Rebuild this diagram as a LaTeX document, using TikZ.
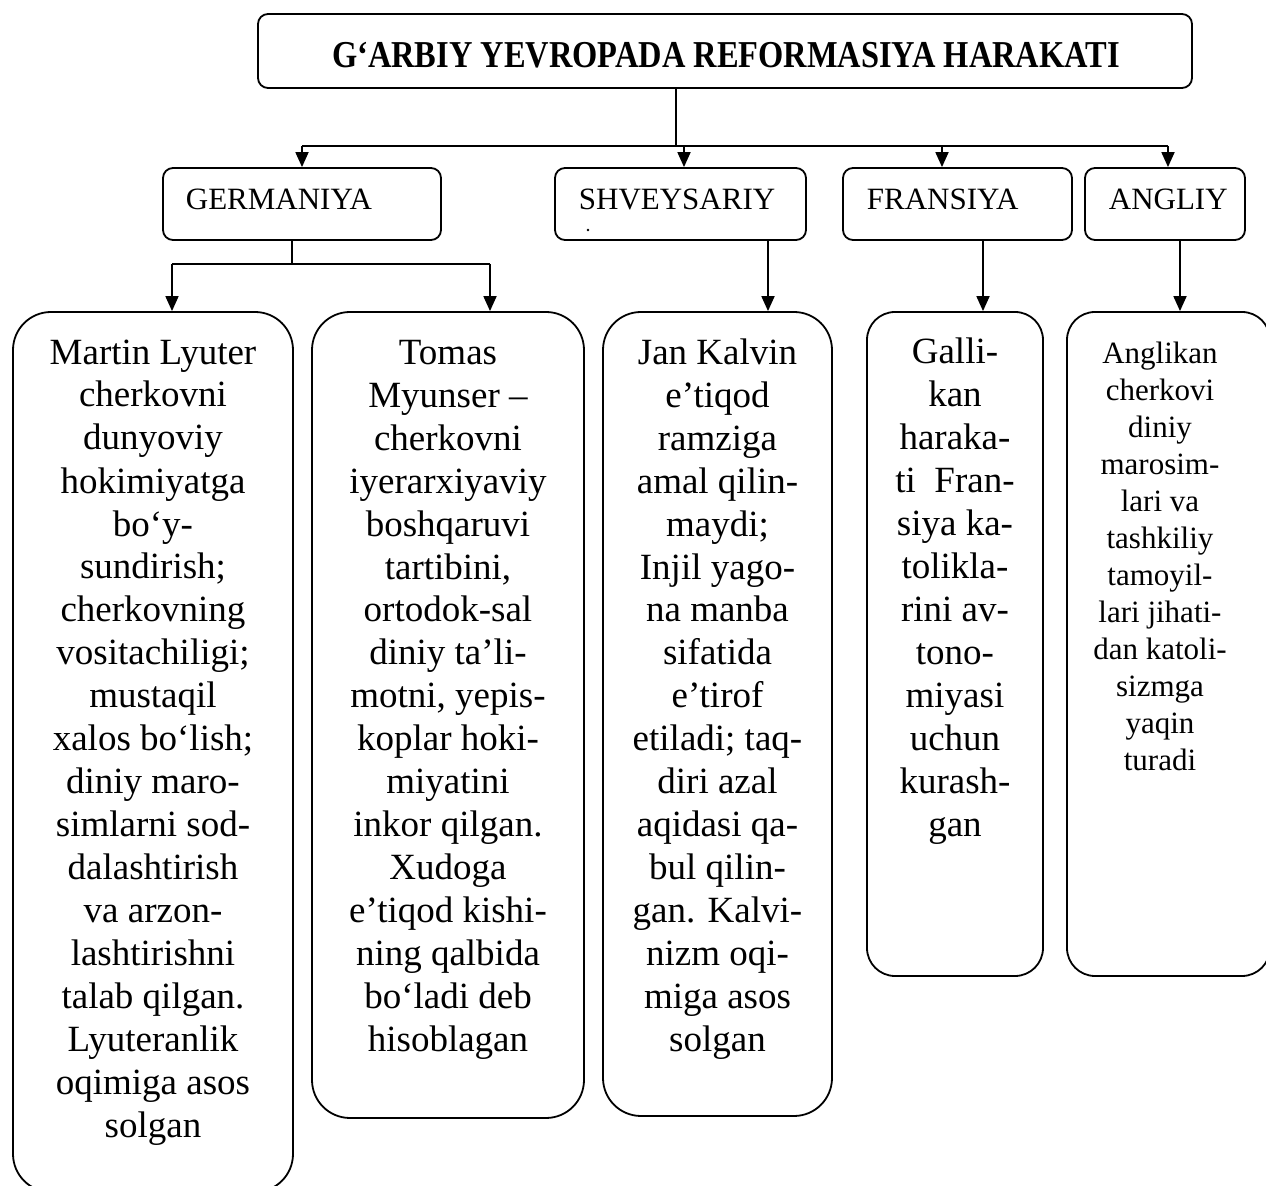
\documentclass[tikz,border=0pt]{standalone}
\usepackage{graphicx}
\usepackage{fontspec}
\setmainfont{Liberation Serif}
\usetikzlibrary{arrows.meta}
\begin{document}
\begin{tikzpicture}[x=0.5pt,y=-0.5pt,line width=0.9pt,
  tbox/.style={draw,rounded corners=5pt,inner sep=0},
  bbox/.style={draw,rounded corners=19pt,inner sep=0},
  sbox/.style={draw,rounded corners=14pt,inner sep=0},
  ltxt/.style={anchor=base west,inner sep=0,font=\fontsize{15.5}{18}\selectfont},
  btxt/.style={anchor=north,inner sep=0,align=center,font=\fontsize{18.5}{21.5}\selectfont},
  ctxt/.style={anchor=north,inner sep=0,align=center,font=\fontsize{15.5}{18.5}\selectfont},
  arr/.style={-{Triangle[length=7.5pt,width=6.5pt]}}]
\fill[white] (0,0) rectangle (1266,1186);
\path[use as bounding box] (0,0) rectangle (1266,1186);
\clip (0,0) rectangle (1266,1186);

% title
\node[tbox,minimum width=467pt,minimum height=37pt] (title) at (725,51) {};
\node[anchor=base,inner sep=0,font=\bfseries\fontsize{19}{22}\selectfont] (titlet) at (726,68)
  {\resizebox{394pt}{\height}{G‘ARBIY YEVROPADA REFORMASIYA HARAKATI}};

% level 2
\node[tbox,minimum width=139pt,minimum height=36pt] (ger) at (302,204) {};
\node[tbox,minimum width=125.5pt,minimum height=36pt] (shv) at (680.5,204) {};
\node[tbox,minimum width=114.5pt,minimum height=36pt] (fra) at (957.5,204) {};
\node[tbox,minimum width=80pt,minimum height=36pt] (ang) at (1165,204) {};
\node[ltxt] (gert) at (185,210) {GERMANIYA};
\node[ltxt] (shvt) at (578,210) {SHVEYSARIY};
\node[ltxt] (frat) at (866,210) {FRANSIYA};
\node[ltxt] (angt) at (1108,210) {ANGLIY};
\fill (588,230) circle (0.7pt);

% bottom boxes
\node[bbox,minimum width=140pt,minimum height=440pt] (b1) at (153,752) {};
\node[bbox,minimum width=136pt,minimum height=403pt] (b2) at (448,715) {};
\node[bbox,minimum width=114.5pt,minimum height=402pt] (b3) at (717.5,714) {};
\node[sbox,minimum width=88pt,minimum height=332pt] (b4) at (955,644) {};
\node[sbox,minimum width=101.5pt,minimum height=332pt] (b5) at (1168.5,644) {};

\node[btxt] (b1t) at (153,333) {\strut Martin Lyuter\\cherkovni\\dunyoviy\\hokimiyatga\\bo‘y-\\sundirish;\\cherkovning\\vositachiligi;\\mustaqil\\xalos bo‘lish;\\diniy maro-\\simlarni sod-\\dalashtirish\\va arzon-\\lashtirishni\\talab qilgan.\\Lyuteranlik\\oqimiga asos\\solgan};
\node[btxt] (b2t) at (448,333) {\strut Tomas\\Myunser –\\cherkovni\\iyerarxiyaviy\\boshqaruvi\\tartibini,\\ortodok-sal\\diniy ta’li-\\motni, yepis-\\koplar hoki-\\miyatini\\inkor qilgan.\\Xudoga\\e’tiqod kishi-\\ning qalbida\\bo‘ladi deb\\hisoblagan};
\node[btxt] (b3t) at (717.5,333) {\strut Jan Kalvin\\e’tiqod\\ramziga\\amal qilin-\\maydi;\\Injil yago-\\na manba\\sifatida\\e’tirof\\etiladi; taq-\\diri azal\\aqidasi qa-\\bul qilin-\\gan. Kalvi-\\nizm oqi-\\miga asos\\solgan};
\node[btxt] (b4t) at (955,333) {\strut Galli-\\kan\\haraka-\\ti\ \ Fran-\\siya ka-\\tolikla-\\rini av-\\tono-\\miyasi\\uchun\\kurash-\\gan};
\node[ctxt] (b5t) at (1160,337) {\strut Anglikan\\cherkovi\\diniy\\marosim-\\lari va\\tashkiliy\\tamoyil-\\lari jihati-\\dan katoli-\\sizmga\\yaqin\\turadi};

% connectors
\coordinate (hub) at (676,146);
\coordinate (hG) at (302,146);
\coordinate (hS) at (684,146);
\coordinate (hF) at (942,146);
\coordinate (hA) at (1168,146);
\draw (title.south -| hub) -- (hub);
\draw (hG) -- (hA);
\draw[arr] (hG) -- (hG |- ger.north);
\draw[arr] (hS) -- (hS |- shv.north);
\draw[arr] (hF) -- (hF |- fra.north);
\draw[arr] (hA) -- (hA |- ang.north);

\coordinate (gs) at (292,264);
\coordinate (gl) at (172,264);
\coordinate (gr) at (490,264);
\draw (ger.south -| gs) -- (gs);
\draw (gl) -- (gr);
\draw[arr] (gl) -- (gl |- b1.north);
\draw[arr] (gr) -- (gr |- b2.north);

\coordinate (sx) at (768,0);
\coordinate (fx) at (983,0);
\coordinate (ax) at (1180,0);
\draw[arr] (shv.south -| sx) -- (b3.north -| sx);
\draw[arr] (fra.south -| fx) -- (b4.north -| fx);
\draw[arr] (ang.south -| ax) -- (b5.north -| ax);
\end{tikzpicture}
\end{document}
